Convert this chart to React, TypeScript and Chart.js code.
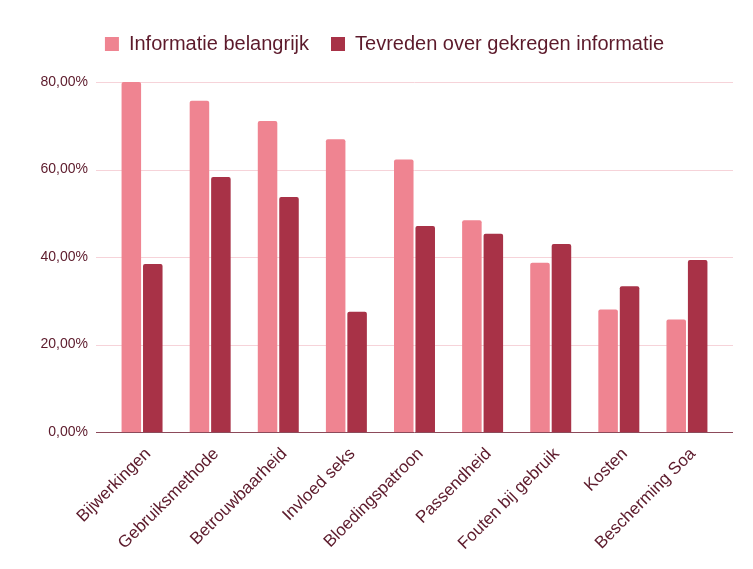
import React, { useEffect, useRef } from "react";
import { Chart, registerables } from "chart.js";

Chart.register(...registerables);

const categories = [
  "Bijwerkingen",
  "Gebruiksmethode",
  "Betrouwbaarheid",
  "Invloed seks",
  "Bloedingspatroon",
  "Passendheid",
  "Fouten bij gebruik",
  "Kosten",
  "Bescherming Soa",
];
const informatieBelangrijk = [80.0, 75.7, 71.1, 66.9, 62.3, 48.4, 38.7, 28.0, 25.7];
const tevredenInformatie = [38.4, 58.3, 53.7, 27.5, 47.1, 45.3, 43.0, 33.3, 39.3];
const seriesNames = ["Informatie belangrijk", "Tevreden over gekregen informatie"];
const yTicks = [0, 20, 40, 60, 80];

const TEXT = "#5c1a2b";
const PINK = "#ef8491";
const DARK = "#a83247";
const FONT = "'Liberation Sans', Arial, sans-serif";

const gridPlugin = {
  id: "extendedGrid",
  beforeDatasetsDraw(chart: any) {
    const { ctx } = chart;
    const y = chart.scales.y;
    const left = chart.chartArea.left - 12;
    const right = chart.chartArea.right + 12;
    ctx.save();
    yTicks.forEach((v) => {
      const py = Math.round(y.getPixelForValue(v)) + 0.5;
      ctx.beginPath();
      ctx.strokeStyle = v === 0 ? "#8c4a5a" : "#f6d3d9";
      ctx.lineWidth = 1;
      ctx.moveTo(left, py);
      ctx.lineTo(right, py);
      ctx.stroke();
    });
    ctx.restore();
  },
};

const legendMargin = {
  id: "legendMargin",
  beforeInit(chart: any) {
    const legend = chart.legend;
    if (!legend) return;
    const origFit = legend.fit;
    legend.fit = function () {
      origFit.call(this);
      this.height += 18;
    };
  },
  afterLayout(chart: any) {
    const legend = chart.legend;
    if (!legend) return;
    legend.left += 20;
    legend.right += 20;
  },
};

export default function App() {
  const ref = useRef<HTMLCanvasElement | null>(null);
  useEffect(() => {
    if (!ref.current) return;
    const chart = new Chart(ref.current, {
      type: "bar",
      data: {
        labels: categories,
        datasets: [
          {
            label: seriesNames[0],
            data: informatieBelangrijk,
            backgroundColor: PINK,
            borderRadius: 2,
            categoryPercentage: 0.63,
            barPercentage: 0.91,
          },
          {
            label: seriesNames[1],
            data: tevredenInformatie,
            backgroundColor: DARK,
            borderRadius: 2,
            categoryPercentage: 0.63,
            barPercentage: 0.91,
          },
        ],
      },
      options: {
        animation: false,
        responsive: false,
        maintainAspectRatio: false,
        layout: { padding: { left: 8, right: 32, top: 12, bottom: 0 } },
        plugins: {
          legend: {
            position: "top",
            labels: {
              boxWidth: 14,
              boxHeight: 14,
              padding: 22,
              color: TEXT,
              font: { family: FONT, size: 20 },
            },
          },
          tooltip: { enabled: false },
        },
        scales: {
          x: {
            grid: { display: false },
            border: { display: false },
            ticks: {
              color: TEXT,
              maxRotation: 45,
              minRotation: 45,
              autoSkip: false,
              padding: 4,
              labelOffset: 6,
              font: { family: FONT, size: 17 },
            },
            afterFit: (scale: any) => {
              scale.height = 137;
            },
          },
          y: {
            min: 0,
            max: 80,
            grid: { display: false },
            border: { display: false },
            afterBuildTicks: (scale: any) => {
              scale.ticks = yTicks.map((v) => ({ value: v }));
            },
            ticks: {
              color: TEXT,
              padding: 12,
              font: { family: FONT, size: 14 },
              callback: (v: any) => Number(v).toFixed(2).replace(".", ",") + "%",
            },
            afterFit: (scale: any) => {
              scale.width = 100;
            },
          },
        },
      },
      plugins: [legendMargin, gridPlugin],
    });
    return () => chart.destroy();
  }, []);
  return (
    <div style={{ position: "fixed", left: 0, top: 0, width: 753, height: 569, background: "#ffffff" }}>
      <canvas ref={ref} width={753} height={569} style={{ width: 753, height: 569 }} />
    </div>
  );
}
